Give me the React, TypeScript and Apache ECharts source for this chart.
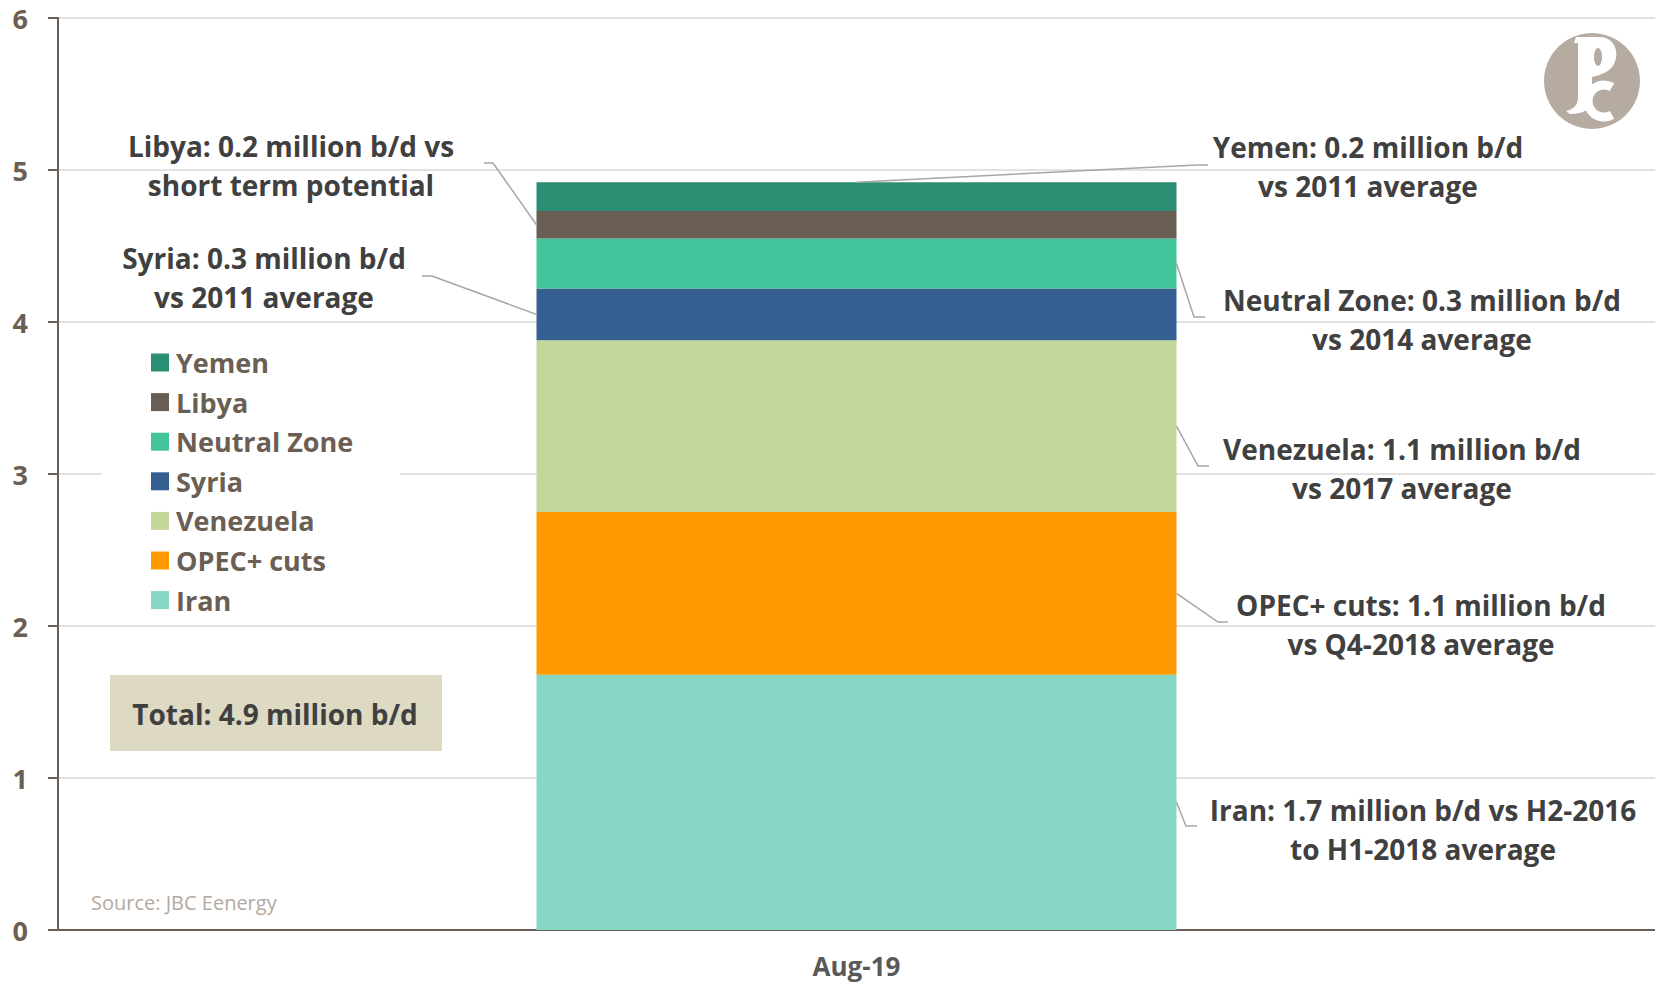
import React, { useEffect, useRef } from "react";
import * as echarts from "echarts";

const categories = ["Aug-19"];
const seriesNames = ["Iran", "OPEC+ cuts", "Venezuela", "Syria", "Neutral Zone", "Libya", "Yemen"];
const seriesValues = [1.68, 1.07, 1.13, 0.34, 0.33, 0.18, 0.19];
const seriesColors = ["#86d7c4", "#ff9a00", "#c4d79a", "#365f91", "#43c49d", "#685e54", "#2a8f72"];
const legendOrder = ["Yemen", "Libya", "Neutral Zone", "Syria", "Venezuela", "OPEC+ cuts", "Iran"];

// annotation texts: [series, text, textCenterX, textCenterY, side, elbowX, elbowY, tailX]
const notes: [string, string, number, number, string, number, number, number][] = [
  ["Libya", "Libya: 0.2 million b/d vs\nshort term potential", 291, 165, "left", 493, 163, 484],
  ["Syria", "Syria: 0.3 million b/d\nvs 2011 average", 264, 277, "left", 432, 276, 422],
  ["Yemen", "Yemen: 0.2 million b/d\nvs 2011 average", 1368, 166, "top", 1197, 165, 1208],
  ["Neutral Zone", "Neutral Zone: 0.3 million b/d\nvs 2014 average", 1422, 319, "right", 1194, 317, 1205],
  ["Venezuela", "Venezuela: 1.1 million b/d\nvs 2017 average", 1402, 468, "right", 1198, 466, 1209],
  ["OPEC+ cuts", "OPEC+ cuts: 1.1 million b/d\nvs Q4-2018 average", 1421, 624, "right", 1218, 622, 1228],
  ["Iran", "Iran: 1.7 million b/d vs H2-2016\nto H1-2018 average", 1423, 829, "right", 1186, 826, 1197],
];
const totalText = "Total: 4.9 million b/d";
const sourceText = "Source: JBC Eenergy";

const FONT = "'Open Sans', 'Noto Sans', sans-serif";
const BAR_WIDTH = 640;

const logoD =
  "M -16 -44 L 8 -44 C 27 -44 31 -16 12 -8 C 8 -6 4 -5 0 -4 L 0 18 C 0 28 -8 33 -22 33 L -26 30 C -18 28 -14 24 -14 16 L -14 -38 L -18 -38 Z";
echarts.graphic.registerShape("logo", echarts.graphic.extendPath(logoD, {}));

export default function App() {
  const ref = useRef<HTMLDivElement>(null);
  useEffect(() => {
    if (!ref.current) return;
    const chart = echarts.init(ref.current, undefined, { renderer: "svg" });
    const series = seriesNames.map((name, i) => ({
      name,
      type: "bar",
      stack: "total",
      barWidth: BAR_WIDTH,
      data: [seriesValues[i]],
      itemStyle: { color: seriesColors[i] },
      emphasis: { disabled: true },
    }));
    chart.setOption({
      animation: false,
      backgroundColor: "#ffffff",
      grid: { left: 58, right: 0, top: 18, bottom: 55 },
      xAxis: {
        type: "category",
        data: categories,
        axisTick: { show: false },
        axisLine: { lineStyle: { color: "#6b5e53", width: 2 } },
        axisLabel: { color: "#595959", fontSize: 26, fontWeight: "bold", fontFamily: FONT, margin: 23, lineHeight: 26 },
      },
      yAxis: {
        type: "value",
        min: 0,
        max: 6,
        interval: 1,
        axisLine: { show: true, lineStyle: { color: "#6b5e53", width: 2 } },
        axisTick: { show: true, length: 10, lineStyle: { color: "#6b5e53", width: 2 } },
        axisLabel: { color: "#6b5e53", fontSize: 27, fontWeight: "bold", fontFamily: FONT, margin: 30 },
        splitLine: { lineStyle: { color: "#d9d9d9", width: 1.5 } },
      },
      legend: {
        data: legendOrder,
        orient: "vertical",
        left: 102,
        top: 330,
        padding: [19, 47, 5, 49],
        backgroundColor: "#ffffff",
        icon: "rect",
        itemWidth: 18,
        itemHeight: 18,
        itemGap: 12.6,
        selectedMode: false,
        textStyle: { color: "#6b5e53", fontSize: 27, fontWeight: "bold", fontFamily: FONT, padding: [0, 0, 0, 2] },
      },
      series,
    });

    const xc = chart.convertToPixel({ xAxisIndex: 0 }, categories[0]) as number;
    const left = xc - BAR_WIDTH / 2;
    const right = xc + BAR_WIDTH / 2;
    const cum: Record<string, [number, number]> = {};
    let acc = 0;
    seriesNames.forEach((n, i) => {
      cum[n] = [acc, acc + seriesValues[i]];
      acc += seriesValues[i];
    });
    const graphics: any[] = [];
    notes.forEach(([name, text, tx, ty, side, ex, ey, tail]) => {
      const [lo, hi] = cum[name];
      let sx: number, sy: number;
      if (side === "left") {
        sx = left;
        sy = chart.convertToPixel({ yAxisIndex: 0 }, (lo + hi) / 2) as number;
      } else if (side === "right") {
        sx = right;
        sy = chart.convertToPixel({ yAxisIndex: 0 }, (lo + hi) / 2) as number;
      } else {
        sx = xc;
        sy = chart.convertToPixel({ yAxisIndex: 0 }, hi) as number;
      }
      graphics.push({
        type: "polyline",
        shape: { points: [[sx, sy], [ex, ey], [tail, ey]] },
        style: { stroke: "#a6a6a6", lineWidth: 1.5, fill: null },
        z: 10,
      });
      graphics.push({
        type: "text",
        x: tx,
        y: ty,
        style: {
          text,
          fill: "#404040",
          fontSize: 28,
          fontWeight: "bold",
          fontFamily: FONT,
          align: "center",
          verticalAlign: "middle",
          lineHeight: 39,
        },
        z: 10,
      });
    });
    graphics.push({
      type: "rect",
      shape: { x: 110, y: 675, width: 332, height: 76 },
      style: { fill: "#ddd9c3" },
      z: 10,
    });
    graphics.push({
      type: "text",
      x: 275,
      y: 714,
      style: { text: totalText, fill: "#404040", fontSize: 28, fontWeight: "bold", fontFamily: FONT, align: "center", verticalAlign: "middle" },
      z: 11,
    });
    graphics.push({
      type: "text",
      x: 91,
      y: 902,
      style: { text: sourceText, fill: "#b3a99f", fontSize: 20, fontFamily: FONT, align: "left", verticalAlign: "middle" },
      z: 10,
    });
    graphics.push({ type: "circle", shape: { cx: 1592, cy: 81, r: 48 }, style: { fill: "#b5aba0" }, z: 10 });
    graphics.push({ type: "logo", x: 1592, y: 81, scaleX: 1, scaleY: 1, style: { fill: "#ffffff" }, z: 11 });
    graphics.push({ type: "ellipse", shape: { cx: 1598, cy: 57, rx: 4, ry: 9 }, style: { fill: "#b5aba0" }, z: 12 });
    graphics.push({
      type: "arc",
      shape: { cx: 1604, cy: 101, r: 16, startAngle: -Math.PI / 3, endAngle: Math.PI / 3, clockwise: false },
      style: { stroke: "#ffffff", lineWidth: 9, fill: null },
      z: 11,
    });
    chart.setOption({ graphic: graphics });
    return () => chart.dispose();
  }, []);
  return <div ref={ref} style={{ position: "fixed", left: 0, top: 0, width: 1655, height: 985 }} />;
}
